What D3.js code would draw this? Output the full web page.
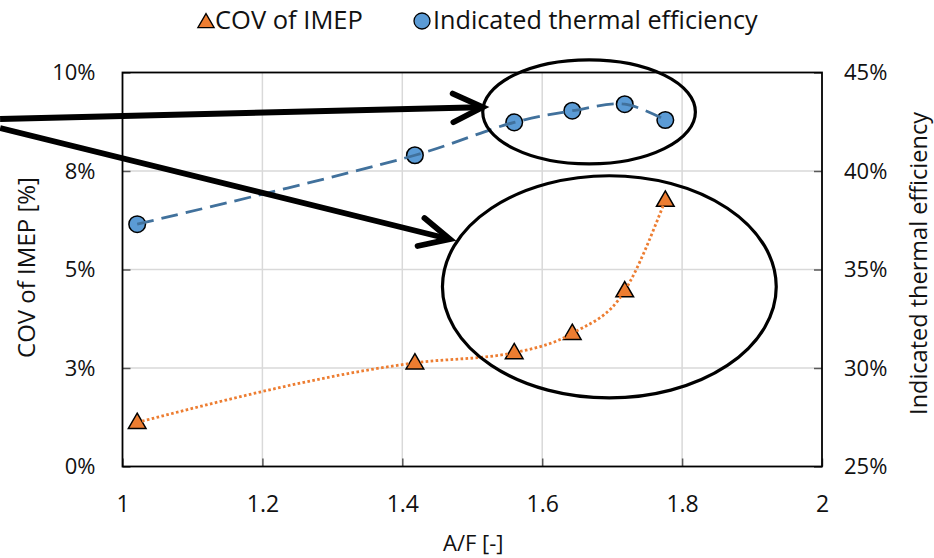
<!DOCTYPE html>
<html><head><meta charset="utf-8">
<script src="https://cdn.jsdelivr.net/npm/d3@7"></script>
<style>
html,body{margin:0;padding:0;background:#fff;}
svg{display:block;}
</style></head>
<body>
<svg id="chart" width="934" height="558"></svg>
<script>
// ---- data ----
const afRatio = [1.021, 1.418, 1.560, 1.643, 1.718, 1.776];
const covImep = [1.12, 2.63, 2.89, 3.38, 4.46, 6.76];          // %
const thermalEff = [37.3, 40.8, 42.47, 43.06, 43.39, 42.59];    // %
const xTicks = [1, 1.2, 1.4, 1.6, 1.8, 2];
const xTickLabels = ["1", "1.2", "1.4", "1.6", "1.8", "2"];
const leftTicks = [0, 2.5, 5, 7.5, 10];
const leftTickLabels = ["0%", "3%", "5%", "8%", "10%"];
const rightTicks = [25, 30, 35, 40, 45];
const rightTickLabels = ["25%", "30%", "35%", "40%", "45%"];
// annotations in data units (x: A/F, y: left-axis %)
const ellipses = [
  {cx: 1.667, cy: 9.0, rx: 0.152, ry: 1.32},
  {cx: 1.696, cy: 4.56, rx: 0.2386, ry: 2.82}
];
const arrows = [
  {x1: 0.825, y1: 8.82, x2: 1.515, y2: 9.12},
  {x1: 0.825, y1: 8.59, x2: 1.468, y2: 5.77}
];

// ---- layout ----
const svg = d3.select("#chart");
const m = {left: 122.5, right: 822, top: 72.5, bottom: 466.5};
const x = d3.scaleLinear().domain([1, 2]).range([m.left, m.right]);
const yL = d3.scaleLinear().domain([0, 10]).range([m.bottom, m.top]);
const yR = d3.scaleLinear().domain([25, 45]).range([m.bottom, m.top]);

const font = "'Open Sans', 'Noto Sans', sans-serif";

// gridlines
const grid = svg.append("g");
grid.selectAll(".vg").data(xTicks.slice(1, -1)).enter().append("line")
  .attr("x1", d => x(d)).attr("x2", d => x(d))
  .attr("y1", m.top).attr("y2", m.bottom)
  .attr("stroke", "#d9d9d9").attr("stroke-width", 1.5);
grid.selectAll(".hg").data(leftTicks.slice(1, -1)).enter().append("line")
  .attr("x1", m.left).attr("x2", m.right)
  .attr("y1", d => yL(d)).attr("y2", d => yL(d))
  .attr("stroke", "#d9d9d9").attr("stroke-width", 1.5);

// axes (inside ticks)
const gx = svg.append("g").attr("transform", `translate(0,${m.bottom})`)
  .call(d3.axisBottom(x).tickValues(xTicks).tickFormat((d, i) => xTickLabels[i]).tickSizeInner(-8).tickSizeOuter(0).tickPadding(29));
const gl = svg.append("g").attr("transform", `translate(${m.left},0)`)
  .call(d3.axisLeft(yL).tickValues(leftTicks).tickFormat((d, i) => leftTickLabels[i]).tickSizeInner(-8).tickSizeOuter(0).tickPadding(27));
const gr = svg.append("g").attr("transform", `translate(${m.right},0)`)
  .call(d3.axisRight(yR).tickValues(rightTicks).tickFormat((d, i) => rightTickLabels[i]).tickSizeInner(-8).tickSizeOuter(0).tickPadding(22));
[gx, gl, gr].forEach(g => {
  g.select(".domain").remove();
  g.selectAll(".tick line").attr("stroke", "#595959").attr("stroke-width", 1.5);
  g.selectAll(".tick text").attr("fill", "#111").attr("font-size", 22).attr("font-family", font);
});
gx.selectAll(".tick text").attr("font-size", 23);

// plot frame
svg.append("rect").attr("x", m.left).attr("y", m.top)
  .attr("width", m.right - m.left).attr("height", m.bottom - m.top)
  .attr("fill", "none").attr("stroke", "#000").attr("stroke-width", 1.8);

// axis titles
svg.append("text").attr("x", (m.left + m.right) / 2 + 1).attr("y", 551)
  .attr("text-anchor", "middle").attr("font-family", font).attr("font-size", 22).attr("fill", "#111")
  .text("A/F [-]");
svg.append("text").attr("transform", `translate(35,${(m.top + m.bottom) / 2 - 2}) rotate(-90)`)
  .attr("text-anchor", "middle").attr("font-family", font).attr("font-size", 24).attr("fill", "#111")
  .text("COV of IMEP [%]");
svg.append("text").attr("transform", `translate(927,${(m.top + m.bottom) / 2 - 6}) rotate(-90)`)
  .attr("text-anchor", "middle").attr("font-family", font).attr("font-size", 23.5).attr("fill", "#111")
  .text("Indicated thermal efficiency");

// markers
const tri = d3.symbol().type(d3.symbolTriangle).size(135);
const covPts = afRatio.map((a, i) => [a, covImep[i]]);
const effPts = afRatio.map((a, i) => [a, thermalEff[i]]);

svg.append("g").selectAll("circle").data(effPts).enter().append("circle")
  .attr("cx", d => x(d[0])).attr("cy", d => yR(d[1])).attr("r", 8.3)
  .attr("fill", "#5b9bd5").attr("stroke", "#000").attr("stroke-width", 1.5);
svg.append("g").selectAll("path").data(covPts).enter().append("path")
  .attr("d", tri).attr("transform", d => `translate(${x(d[0])},${yL(d[1]) + 1})`)
  .attr("fill", "#ed7d31").attr("stroke", "#000").attr("stroke-width", 1.5);

// smooth trend lines through the data
svg.append("path").datum(effPts)
  .attr("d", d3.line().x(d => x(d[0])).y(d => yR(d[1])).curve(d3.curveCatmullRom.alpha(0.5)))
  .attr("fill", "none").attr("stroke", "#41719c").attr("stroke-width", 2.8).attr("stroke-dasharray", "17,8");
svg.append("path").datum(covPts)
  .attr("d", d3.line().x(d => x(d[0])).y(d => yL(d[1])).curve(d3.curveMonotoneX))
  .attr("fill", "none").attr("stroke", "#ed7d31").attr("stroke-width", 2.8).attr("stroke-dasharray", "2.6,2.4");

// annotations
const ann = svg.append("g");
ann.selectAll("ellipse").data(ellipses).enter().append("ellipse")
  .attr("cx", d => x(d.cx)).attr("cy", d => yL(d.cy))
  .attr("rx", d => x(d.cx + d.rx) - x(d.cx)).attr("ry", d => yL(d.cy - d.ry) - yL(d.cy))
  .attr("fill", "none").attr("stroke", "#000").attr("stroke-width", 3.2);
arrows.forEach(a => {
  const X1 = x(a.x1), Y1 = yL(a.y1), X2 = x(a.x2), Y2 = yL(a.y2);
  const ang = Math.atan2(Y2 - Y1, X2 - X1);
  ann.append("line").attr("x1", X1).attr("y1", Y1).attr("x2", X2 - 3 * Math.cos(ang)).attr("y2", Y2 - 3 * Math.sin(ang))
    .attr("stroke", "#000").attr("stroke-width", 5.8);
  const L = 33, spread = 0.45;
  const p1 = [X2 - L * Math.cos(ang - spread), Y2 - L * Math.sin(ang - spread)];
  const p2 = [X2 - L * Math.cos(ang + spread), Y2 - L * Math.sin(ang + spread)];
  ann.append("path").attr("d", `M${p1[0]},${p1[1]} L${X2},${Y2} L${p2[0]},${p2[1]}`)
    .attr("fill", "none").attr("stroke", "#000").attr("stroke-width", 5.8)
    .attr("stroke-linejoin", "miter").attr("stroke-linecap", "round");
});

// legend
const lg = svg.append("g");
lg.append("path").attr("d", d3.symbol().type(d3.symbolTriangle).size(115))
  .attr("transform", "translate(206,23)").attr("fill", "#ed7d31").attr("stroke", "#000").attr("stroke-width", 1.3);
lg.append("text").attr("x", 215).attr("y", 29).attr("font-family", font).attr("font-size", 25.5).attr("fill", "#111")
  .text("COV of IMEP");
lg.append("circle").attr("cx", 422).attr("cy", 21).attr("r", 8)
  .attr("fill", "#5b9bd5").attr("stroke", "#000").attr("stroke-width", 1.3);
lg.append("text").attr("x", 433).attr("y", 29).attr("font-family", font).attr("font-size", 25.2).attr("fill", "#111")
  .text("Indicated thermal efficiency");
</script>
</body></html>
